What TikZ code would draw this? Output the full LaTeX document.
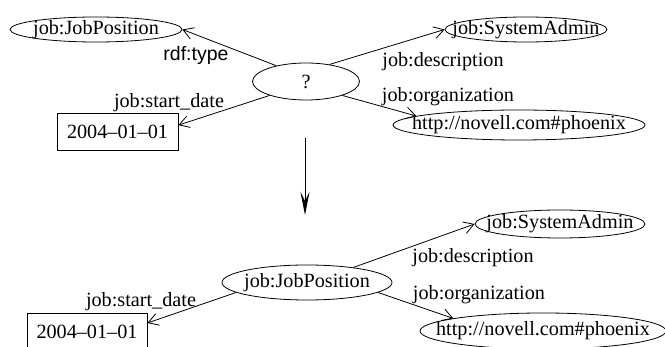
\documentclass[tikz,border=0pt]{standalone}
\usepackage{fontspec}
\setmainfont{Liberation Serif}
\newfontfamily\lsans{Liberation Sans}
\usetikzlibrary{shapes.geometric,arrows.meta}
\begin{document}
\begin{tikzpicture}[x=1pt,y=-1pt,
  every node/.style={font=\fontsize{20.2}{22}\selectfont, inner sep=0pt},
  res/.style={draw, ellipse, line width=0.8pt, inner xsep=-40pt, inner ysep=-15pt},
  lit/.style={draw, rectangle, line width=0.8pt},
  arr/.style={line width=0.8pt, -{Straight Barb[length=10pt,width=12pt,line width=0.8pt]}},
  bigarr/.style={line width=0.8pt, -{Stealth[length=23pt,width=9pt,inset=9pt]}},
  lab/.style={}
]
\clip (0,0) rectangle (665,347);
\useasboundingbox (0,0) rectangle (665,347);
% top graph
\node[res, minimum width=172pt, minimum height=25pt] (jp) at (96,29.5) {job:JobPosition};
\node[res, minimum width=107pt, minimum height=37pt] (q) at (306,81.5) {?};
\node[lit, minimum width=121pt, minimum height=37pt] (d) at (117.5,131.5) {2004--01--01};
\node[res, minimum width=162pt, minimum height=25pt] (sa) at (526,29.5) {job:SystemAdmin};
\node[res, minimum width=252pt, minimum height=30pt] (nv) at (519,125) {http://novell.com\#phoenix};
\draw[arr] (q.152) -- (jp.east);
\draw[arr] (q.201) -- (d.6);
\draw[arr] (q.36) -- (sa.west);
\draw[arr] (q.-21) -- (nv.175);
\node[lab, font=\fontsize{19.5}{22}\selectfont\lsans] (l1) at (196,55) {rdf:type};
\node[lab] (l2) at (169,103) {job:start\_date};
\node[lab] (l3) at (443,62) {job:description};
\node[lab] (l4) at (448,97) {job:organization};
% transformation arrow
\coordinate (a1) at (305,138);
\coordinate (a2) at (305,215);
\draw[bigarr] (a1) -- (a2);
% bottom graph
\node[res, minimum width=170pt, minimum height=35pt] (jp2) at (307,282.5) {job:JobPosition};
\node[lit, minimum width=120pt, minimum height=37pt] (d2) at (87,331.5) {2004--01--01};
\node[res, minimum width=170pt, minimum height=28pt] (sa2) at (560,224) {job:SystemAdmin};
\node[res, minimum width=246pt, minimum height=36pt] (nv2) at (543,331) {http://novell.com\#phoenix};
\draw[arr] (jp2.18) -- (sa2.west);
\draw[arr] (jp2.-8) -- (nv2.172);
\draw[arr] (jp2.188) -- (d2.8);
\node[lab] (l5) at (141,302) {job:start\_date};
\node[lab] (l6) at (473,258) {job:description};
\node[lab] (l7) at (479,295) {job:organization};
\end{tikzpicture}
\end{document}
